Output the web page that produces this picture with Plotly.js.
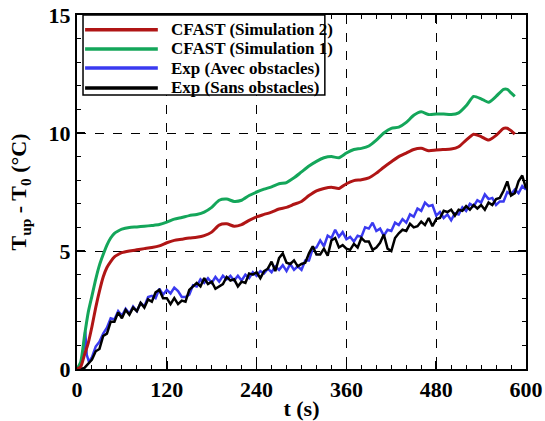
<!DOCTYPE html>
<html>
<head>
<meta charset="utf-8">
<script src="https://cdn.plot.ly/plotly-3.0.1.min.js"></script>
<style>
html,body{margin:0;padding:0;background:#fff;}
#chart{width:545px;height:421px;}
</style>
</head>
<body>
<div id="chart"></div>
<script>
// ---- data ----
const tSim1 = [0,5,10,15,20,25,30,35,40,45,50,55,60,70,80,90,100,110,120,130,140,150,160,170,180,190,200,210,220,230,240,250,260,270,280,290,300,310,320,330,340,350,360,370,380,390,400,410,420,430,440,450,460,470,480,490,500,510,520,530,540,550,560,570,575,580,585];
const sim1 = [0,0.3,1.4,2.4,3.1,3.8,4.4,4.85,5.25,5.55,5.75,5.85,5.93,6.0,6.02,6.05,6.08,6.12,6.22,6.35,6.42,6.5,6.55,6.65,6.85,7.15,7.2,7.1,7.15,7.35,7.5,7.62,7.72,7.85,7.9,8.1,8.35,8.6,8.8,8.95,9.0,8.95,9.15,9.3,9.35,9.45,9.7,10.0,10.2,10.25,10.45,10.75,10.9,10.78,10.8,10.8,10.78,10.85,11.15,11.55,11.45,11.3,11.55,11.85,11.85,11.7,11.55];
const tSim2 = tSim1;
const sim2 = [0,0.1,0.6,1.1,1.8,2.6,3.3,3.9,4.3,4.55,4.75,4.85,4.93,5.0,5.05,5.1,5.15,5.22,5.35,5.45,5.5,5.55,5.58,5.65,5.8,6.1,6.15,6.05,6.12,6.3,6.45,6.55,6.65,6.78,6.85,6.98,7.1,7.35,7.55,7.65,7.7,7.65,7.85,7.98,8.02,8.1,8.3,8.55,8.78,9.0,9.15,9.3,9.35,9.25,9.28,9.3,9.32,9.42,9.7,9.95,9.85,9.7,9.9,10.2,10.2,10.1,9.95];

const tAvec = [0,4,8,11,13,16,20,25,30,35,40,45,50,55,60,65,70,75,80,85,90,95,100,105,110,115,120,125,130,135,140,145,150,155,160,165,170,175,180,185,190,195,200,205,210,215,220,225,230,235,240,245,250,255,260,265,270,275,280,285,290,295,300,305,310,315,320,325,330,335,340,345,350,355,360,365,370,375,380,385,390,395,400,405,410,415,420,425,430,435,440,445,450,455,460,465,470,475,480,485,490,495,500,505,510,515,520,525,530,535,540,545,550,555,560,565,570,575,580,585,590,595,600];
const avec = [0,0.1,0.5,1.6,0.6,0.3,0.5,0.95,1.15,1.5,1.75,2.15,2.1,2.45,2.25,2.55,2.35,2.65,2.45,2.8,2.65,3.05,3.1,3.0,3.4,3.15,3.35,3.2,3.45,3.3,3.05,3.05,3.15,3.55,3.5,3.8,3.65,3.85,3.65,3.9,3.7,3.95,3.8,3.95,3.75,3.95,3.75,4.0,3.85,4.1,3.95,4.15,4.05,4.25,4.1,4.35,4.2,4.4,4.15,4.45,4.2,4.35,4.2,4.6,4.6,5.1,5.15,5.45,5.2,5.65,5.55,5.9,5.6,5.8,5.5,5.6,5.4,5.65,5.6,6.0,5.95,6.2,5.85,5.95,5.65,5.9,5.85,6.2,6.1,6.35,6.2,6.55,6.45,6.8,6.7,7.05,6.9,6.95,6.5,6.65,6.4,6.55,6.3,6.6,6.55,6.85,6.7,7.0,6.9,7.15,7.05,7.4,7.2,7.25,6.95,7.1,7.1,7.5,7.4,7.6,7.45,7.75,7.6];

const tSans = [0,5,10,15,20,25,30,35,40,45,50,55,60,65,70,75,80,85,90,95,100,105,110,115,120,125,130,135,140,145,150,155,160,165,170,175,180,185,190,195,200,205,210,215,220,225,230,235,240,245,250,255,260,265,270,275,280,285,290,295,300,305,310,315,320,325,330,335,340,345,350,355,360,365,370,375,380,385,390,395,400,405,410,415,420,425,430,435,440,445,450,455,460,465,470,475,480,485,490,495,500,505,510,515,520,525,530,535,540,545,550,555,560,565,570,575,580,585,590,595,600];
const sans = [0,0,0.05,0.25,0.4,0.75,0.85,1.4,1.5,2.0,2.0,2.4,2.15,2.5,2.3,2.6,2.45,2.8,2.6,2.95,2.85,3.25,3.35,3.0,3.0,2.75,3.0,2.75,2.9,2.85,3.35,3.5,3.65,3.5,3.85,3.6,3.7,3.4,3.5,3.6,3.9,3.75,3.8,3.5,3.7,3.65,4.05,4.0,4.1,3.85,4.15,4.25,4.55,4.15,4.7,4.9,4.5,4.45,4.6,4.35,4.45,4.5,4.9,5.2,4.85,4.85,5.1,4.8,5.45,5.55,5.15,5.25,5.1,5.05,5.3,5.15,5.55,5.4,5.4,5.05,5.15,5.35,5.7,5.1,5.0,5.55,5.75,5.9,5.85,6.15,6.0,6.05,6.25,6.1,6.4,6.05,6.35,6.4,6.7,6.65,6.75,6.5,6.75,6.7,6.9,6.75,6.95,6.8,6.95,6.75,7.05,6.95,7.2,7.25,7.55,7.95,7.35,7.45,7.95,8.2,7.65];

const legendNames = ["CFAST (Simulation 2)","CFAST (Simulation 1)","Exp (Avec obstacles)","Exp (Sans obstacles)"];
const colors = ["#B01515","#14A65A","#3A3AF0","#000000"];
const xTicks = [0,120,240,360,480,600];
const yTicks = [0,5,10,15];

// ---- chart ----
const F = "Liberation Serif";
const traces = [
  {x:tAvec, y:avec, name:legendNames[2], mode:"lines", line:{color:colors[2], width:2.5}},
  {x:tSans, y:sans, name:legendNames[3], mode:"lines", line:{color:colors[3], width:2.5}},
  {x:tSim1, y:sim1, name:legendNames[1], mode:"lines", line:{color:colors[1], width:3, shape:"spline", smoothing:0.6}},
  {x:tSim2, y:sim2, name:legendNames[0], mode:"lines", line:{color:colors[0], width:3, shape:"spline", smoothing:0.6}}
];

// custom legend (paper coords)
const shapes = [{type:"rect", xref:"paper", yref:"paper", x0:0.0134, x1:0.552, y0:0.774, y1:1.0, fillcolor:"#fff", line:{color:"#000", width:1.5}, layer:"above"}];
const annotations = [];
const rowY = [0.958, 0.904, 0.850, 0.794];
for (let i = 0; i < 4; i++) {
  shapes.push({type:"line", xref:"paper", yref:"paper", x0:0.018, x1:0.18, y0:rowY[i], y1:rowY[i], line:{color:colors[i], width:3.5}, layer:"above"});
  annotations.push({xref:"paper", yref:"paper", x:0.205, y:rowY[i], xanchor:"left", yanchor:"middle", text:legendNames[i], showarrow:false, font:{family:F, size:17, color:"#000", weight:"bold"}});
}

const axisCommon = {
  showline:true, linecolor:"#000", linewidth:2, mirror:"allticks",
  ticks:"inside", ticklen:8, tickwidth:1.5, tickcolor:"#000",
  showgrid:true, gridcolor:"#000", gridwidth:1, griddash:"dash",
  zeroline:false,
  tickfont:{family:F, size:22, color:"#000", weight:"bold"}
};

const layout = {
  width:545, height:421,
  margin:{l:77, r:19, t:15, b:52},
  paper_bgcolor:"#fff", plot_bgcolor:"#fff",
  showlegend:false,
  font:{family:F, color:"#000"},
  xaxis:Object.assign({}, axisCommon, {
    range:[0,600], tickvals:xTicks, ticktext:xTicks.map(String),
    minor:{ticks:"inside", dtick:20, ticklen:4, tickwidth:1, tickcolor:"#000", showgrid:false},
    title:{text:"t (s)", font:{family:F, size:22, color:"#000", weight:"bold"}, standoff:2}
  }),
  yaxis:Object.assign({}, axisCommon, {
    range:[0,15], tickvals:yTicks, ticktext:yTicks.map(String), automargin:"left",
    minor:{ticks:"inside", dtick:1, ticklen:4, tickwidth:1, tickcolor:"#000", showgrid:false},
    title:{text:"T<sub>up</sub> - T<sub>0</sub> (°C)", font:{family:F, size:22, color:"#000", weight:"bold"}, standoff:16}
  }),
  shapes:shapes,
  annotations:annotations
};

Plotly.newPlot("chart", traces, layout, {displayModeBar:false, staticPlot:true});
</script>
</body>
</html>
